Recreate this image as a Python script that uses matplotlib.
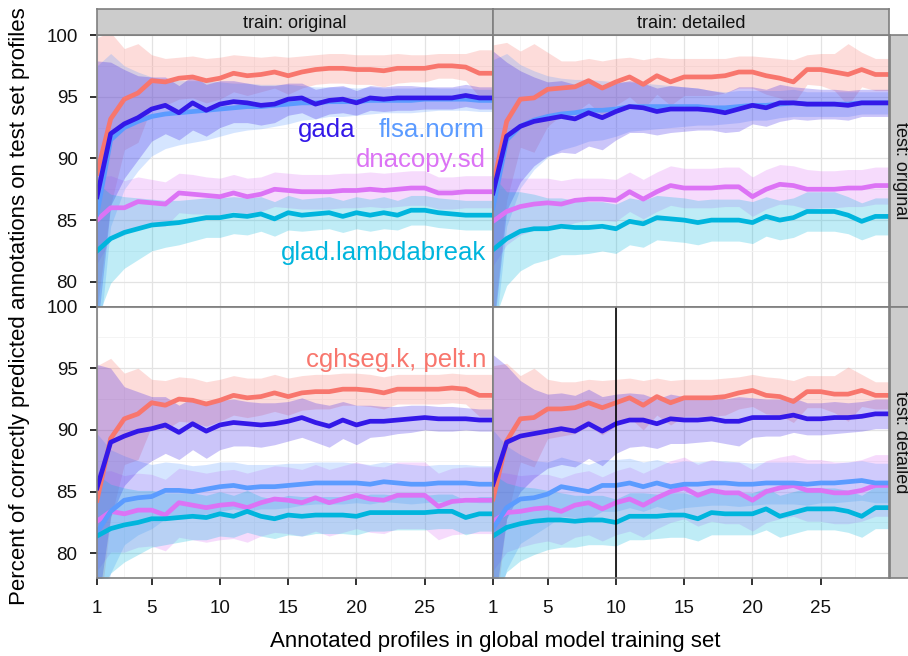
import matplotlib
matplotlib.use('Agg')
import matplotlib.pyplot as plt

plt.rcParams['font.family'] = ['Liberation Sans', 'DejaVu Sans']

# datos: numero de perfiles anotados
x = [1, 2, 3, 4, 5, 6, 7, 8, 9, 10, 11, 12, 13, 14, 15,
     16, 17, 18, 19, 20, 21, 22, 23, 24, 25, 26, 27, 28, 29, 30]

methods = ['cghseg.k, pelt.n', 'dnacopy.sd', 'flsa.norm', 'gada', 'glad.lambdabreak']
colors = ['#F8766D', '#DC73F5', '#5B9BFF', '#3318E8', '#00B5DD']

# train: original / test: original  (oo)
cghseg_oo = [88.8, 93.2, 94.8, 95.3, 96.3, 96.2, 96.5, 96.6, 96.3, 96.5, 96.9, 96.7, 96.8, 97.0, 96.7, 97.0, 97.2, 97.3, 97.3, 97.2, 97.2, 97.1, 97.3, 97.3, 97.3, 97.5, 97.5, 97.4, 96.9, 96.9]
dnacopy_oo = [85.0, 86.0, 86.0, 86.5, 86.4, 86.3, 87.2, 87.1, 87.0, 86.9, 87.2, 86.9, 87.1, 87.5, 87.4, 87.3, 87.3, 87.3, 87.4, 87.4, 87.5, 87.4, 87.5, 87.6, 87.6, 87.2, 87.2, 87.3, 87.3, 87.3]
flsa_oo = [85.5, 91.5, 92.5, 93.0, 93.4, 93.6, 93.7, 93.8, 93.9, 94.0, 94.1, 94.2, 94.2, 94.3, 94.4, 94.5, 94.5, 94.6, 94.6, 94.6, 94.7, 94.7, 94.7, 94.7, 94.8, 94.8, 94.8, 94.8, 94.7, 94.7]
gada_oo = [86.9, 92.0, 92.8, 93.3, 94.0, 94.3, 93.7, 94.5, 93.9, 94.4, 94.6, 94.5, 94.3, 94.4, 94.8, 94.9, 94.4, 94.7, 94.8, 94.5, 94.9, 94.8, 94.9, 94.9, 94.9, 94.9, 94.9, 95.1, 94.9, 94.9]
glad_oo = [82.5, 83.5, 84.0, 84.3, 84.6, 84.7, 84.8, 85.0, 85.2, 85.2, 85.4, 85.3, 85.5, 85.1, 85.6, 85.4, 85.5, 85.6, 85.3, 85.6, 85.4, 85.6, 85.4, 85.8, 85.8, 85.6, 85.5, 85.4, 85.4, 85.4]
cghseg_oo_sd = [11, 7, 4.1, 4, 2.1, 1.9, 1.7, 1.7, 1.8, 1.7, 1.5, 1.6, 1.4, 1.3, 1.5, 1.3, 1.2, 1.2, 1.2, 1.2, 1.2, 1.3, 1.2, 1.1, 1.1, 1.0, 1.0, 1.1, 1.9, 1.9]
dnacopy_oo_sd = [3.5, 2.6, 2.2, 2.0, 1.9, 1.8, 1.6, 1.6, 1.5, 1.5, 1.5, 1.5, 1.4, 1.4, 1.4, 1.4, 1.4, 1.4, 1.4, 1.4, 1.4, 1.4, 1.4, 1.4, 1.4, 1.3, 1.3, 1.3, 1.3, 1.3]
flsa_oo_sd = [12, 7, 5, 4, 3.2, 2.8, 2.6, 2.5, 2.4, 2.2, 2.0, 1.9, 1.8, 1.7, 1.6, 1.4, 1.3, 1.2, 1.2, 1.1, 1.1, 1.0, 1.0, 1.0, 1.0, 0.9, 0.9, 0.9, 0.9, 0.9]
gada_oo_sd = [11, 5.8, 4.4, 3.4, 2.6, 2.3, 2.2, 2.2, 2.1, 1.9, 1.7, 1.6, 1.6, 1.5, 1.3, 1.2, 1.2, 1.1, 1.1, 1.0, 1.0, 1.0, 1.0, 1.0, 0.9, 0.9, 0.9, 0.9, 0.9, 0.9]
glad_oo_sd = [5.5, 3.6, 2.9, 2.5, 2.1, 1.9, 1.8, 1.7, 1.6, 1.6, 1.5, 1.5, 1.4, 1.4, 1.4, 1.3, 1.3, 1.3, 1.3, 1.3, 1.3, 1.3, 1.2, 1.2, 1.2, 1.2, 1.2, 1.2, 1.2, 1.2]

# train: detailed / test: original  (do)
cghseg_do = [87.7, 93.0, 94.8, 94.9, 95.6, 95.7, 95.8, 96.3, 95.7, 96.2, 96.6, 96.0, 96.7, 96.2, 96.6, 96.6, 96.6, 96.7, 97.0, 97.0, 96.7, 96.5, 96.2, 97.2, 97.2, 97.0, 96.8, 97.2, 96.8, 96.8]
dnacopy_do = [84.9, 85.7, 86.1, 86.3, 86.4, 86.3, 86.6, 86.7, 86.7, 86.6, 87.3, 86.7, 87.3, 87.8, 87.6, 87.6, 87.6, 87.7, 87.7, 86.9, 87.5, 87.9, 87.8, 87.5, 87.5, 87.5, 87.6, 87.6, 87.8, 87.8]
flsa_do = [86.0, 91.5, 92.6, 93.1, 93.4, 93.6, 93.7, 93.9, 93.9, 94.0, 94.2, 94.2, 94.2, 94.2, 94.2, 94.2, 94.1, 94.1, 94.2, 94.3, 94.3, 94.4, 94.5, 94.4, 94.4, 94.4, 94.4, 94.5, 94.5, 94.5]
gada_do = [87.2, 91.8, 92.6, 93.0, 93.2, 93.4, 93.2, 93.7, 93.3, 93.8, 94.2, 94.1, 93.8, 94.0, 94.0, 94.0, 93.9, 93.7, 94.0, 94.3, 94.1, 94.5, 94.5, 94.4, 94.4, 94.4, 94.3, 94.5, 94.5, 94.5]
glad_do = [82.6, 83.5, 84.1, 84.3, 84.3, 84.5, 84.4, 84.4, 84.5, 84.3, 84.9, 84.7, 85.2, 85.1, 85.0, 84.8, 85.0, 85.0, 85.0, 84.8, 85.3, 85.0, 85.2, 85.7, 85.7, 85.7, 85.4, 84.9, 85.3, 85.3]
cghseg_do_sd = [11.5, 6.4, 3.9, 4.4, 3.0, 2.2, 2.1, 1.8, 2.2, 1.9, 1.6, 2.0, 1.5, 1.9, 1.5, 1.5, 1.5, 1.4, 1.3, 1.3, 1.5, 1.6, 1.8, 1.2, 1.3, 1.5, 2.5, 1.4, 1.3, 1.3]
dnacopy_do_sd = [3.6, 2.7, 2.3, 2.1, 2.0, 1.9, 1.8, 1.7, 1.7, 1.7, 1.6, 1.6, 1.6, 1.6, 1.6, 1.6, 1.6, 1.6, 1.6, 1.6, 1.6, 1.6, 1.6, 1.6, 1.5, 1.5, 1.5, 1.5, 1.5, 1.5]
flsa_do_sd = [12, 7, 5, 4, 3.3, 2.9, 2.7, 2.5, 2.4, 2.2, 2.0, 1.9, 1.8, 1.7, 1.6, 1.5, 1.4, 1.3, 1.3, 1.2, 1.2, 1.1, 1.1, 1.0, 1.0, 1.0, 1.0, 0.9, 0.9, 0.9]
gada_do_sd = [11.5, 6, 4.5, 3.6, 3.0, 2.9, 2.8, 2.7, 2.6, 2.3, 2.1, 2.0, 1.9, 1.9, 1.8, 1.7, 1.6, 1.6, 1.8, 1.5, 1.5, 1.5, 1.3, 1.3, 1.2, 1.2, 1.2, 1.1, 1.1, 1.1]
glad_do_sd = [6, 3.8, 3.2, 2.8, 2.5, 2.3, 2.2, 2.1, 2.0, 2.0, 1.9, 1.9, 1.8, 1.8, 1.8, 1.8, 1.7, 1.7, 1.7, 1.7, 1.6, 1.6, 1.6, 1.6, 1.6, 1.6, 1.5, 1.5, 1.5, 1.5]

# train: original / test: detailed  (od)
cghseg_od = [84.3, 89.3, 90.9, 91.3, 92.2, 92.0, 92.5, 92.4, 92.1, 92.4, 92.8, 92.6, 92.7, 93.0, 92.7, 93.0, 93.1, 93.1, 93.3, 93.3, 93.2, 93.0, 93.3, 93.3, 93.3, 93.3, 93.4, 93.3, 92.8, 92.8]
dnacopy_od = [82.6, 83.4, 83.2, 83.5, 83.5, 83.1, 84.1, 83.9, 83.7, 83.9, 84.0, 83.7, 84.1, 84.4, 84.3, 84.1, 84.5, 84.1, 84.4, 84.7, 84.4, 84.3, 84.7, 84.7, 84.7, 83.8, 84.2, 84.3, 84.3, 84.3]
flsa_od = [81.7, 83.4, 84.3, 84.5, 84.6, 85.1, 85.1, 85.0, 85.2, 85.4, 85.5, 85.3, 85.4, 85.4, 85.5, 85.6, 85.7, 85.7, 85.7, 85.7, 85.6, 85.8, 85.7, 85.6, 85.6, 85.7, 85.7, 85.7, 85.6, 85.6]
gada_od = [85.3, 89.0, 89.5, 89.9, 90.1, 90.4, 89.8, 90.5, 89.9, 90.4, 90.6, 90.5, 90.4, 90.5, 90.7, 91.0, 90.6, 90.3, 90.8, 90.4, 90.7, 90.7, 90.8, 90.9, 91.0, 90.9, 90.9, 90.9, 90.8, 90.8]
glad_od = [81.4, 82.0, 82.3, 82.5, 82.8, 82.8, 82.9, 83.0, 82.9, 83.2, 83.0, 83.4, 83.0, 82.8, 83.1, 83.0, 83.1, 83.1, 83.1, 83.0, 83.3, 83.3, 83.3, 83.3, 83.3, 83.4, 83.4, 82.9, 83.2, 83.2]
cghseg_od_sd = [10.9, 6.5, 3.7, 3.7, 1.9, 2.0, 1.8, 1.8, 1.8, 1.7, 1.6, 1.6, 1.5, 1.5, 1.5, 1.4, 1.4, 1.4, 1.3, 1.3, 1.3, 1.3, 1.2, 1.2, 1.2, 1.2, 1.2, 1.2, 1.7, 1.7]
dnacopy_od_sd = [4, 3.3, 3.1, 3.0, 2.9, 2.9, 2.8, 2.8, 2.8, 2.8, 2.8, 2.8, 2.7, 2.7, 2.7, 2.7, 2.7, 2.7, 2.7, 2.7, 2.7, 2.7, 2.7, 2.7, 2.7, 2.7, 2.7, 2.7, 2.7, 2.7]
flsa_od_sd = [8, 5, 3.6, 3.0, 2.6, 2.3, 2.2, 2.1, 2.0, 2.0, 1.9, 1.9, 1.8, 1.8, 1.8, 1.7, 1.7, 1.7, 1.7, 1.6, 1.6, 1.6, 1.6, 1.6, 1.5, 1.5, 1.5, 1.5, 1.5, 1.5]
gada_od_sd = [10, 6, 4, 3.2, 2.6, 2.3, 2.2, 2.1, 2.2, 2.0, 1.9, 1.8, 1.8, 1.7, 1.6, 1.6, 1.6, 1.7, 1.5, 1.6, 1.3, 1.2, 1.1, 1.1, 1.0, 1.0, 1.0, 0.9, 0.9, 0.9]
glad_od_sd = [5, 3.6, 3.0, 2.6, 2.3, 2.1, 2.0, 1.9, 1.8, 1.8, 1.7, 1.7, 1.6, 1.6, 1.6, 1.6, 1.5, 1.5, 1.5, 1.5, 1.5, 1.5, 1.4, 1.4, 1.4, 1.4, 1.4, 1.4, 1.4, 1.4]

# train: detailed / test: detailed  (dd)
cghseg_dd = [84.4, 89.1, 90.9, 91.0, 91.7, 91.7, 91.8, 92.2, 91.8, 92.2, 92.6, 92.0, 92.7, 92.2, 92.6, 92.6, 92.6, 92.7, 93.0, 93.2, 92.8, 92.7, 92.3, 93.1, 93.1, 92.9, 92.9, 93.2, 92.8, 92.8]
dnacopy_dd = [82.6, 83.3, 83.4, 83.6, 83.7, 83.4, 83.9, 84.1, 83.6, 84.1, 84.4, 83.9, 84.5, 85.0, 85.3, 84.7, 85.1, 84.9, 84.9, 84.3, 85.0, 85.3, 85.5, 85.1, 85.1, 84.9, 84.9, 85.1, 85.5, 85.5]
flsa_dd = [82.0, 83.7, 84.4, 84.5, 84.8, 85.4, 85.2, 85.0, 85.5, 85.5, 85.7, 85.4, 85.7, 85.4, 85.6, 85.6, 85.7, 85.7, 85.6, 85.6, 85.7, 85.7, 85.7, 85.6, 85.7, 85.7, 85.8, 85.9, 85.7, 85.7]
gada_dd = [85.6, 89.0, 89.5, 89.7, 89.9, 90.1, 89.9, 90.5, 89.9, 90.5, 90.8, 90.8, 90.5, 90.9, 90.8, 90.8, 90.9, 90.7, 90.7, 91.0, 91.0, 91.0, 91.2, 90.9, 90.9, 91.0, 91.0, 91.1, 91.3, 91.3]
glad_dd = [81.4, 82.1, 82.4, 82.6, 82.7, 82.7, 82.6, 82.7, 82.7, 82.5, 83.0, 83.0, 83.0, 83.1, 83.1, 82.8, 83.3, 83.2, 83.2, 83.2, 83.6, 83.0, 83.3, 83.6, 83.6, 83.6, 83.4, 83.0, 83.7, 83.7]
cghseg_dd_sd = [10.8, 6.3, 3.5, 4.0, 2.4, 2.2, 2.1, 1.9, 2.2, 1.9, 1.6, 2.0, 1.5, 1.8, 1.5, 1.5, 1.5, 1.5, 1.3, 1.3, 1.5, 1.5, 1.7, 1.3, 1.3, 1.5, 2.2, 1.3, 1.1, 1.1]
dnacopy_dd_sd = [4, 3.2, 2.9, 2.8, 2.7, 2.7, 2.6, 2.6, 2.6, 2.6, 2.6, 2.6, 2.5, 2.5, 2.5, 2.5, 2.5, 2.5, 2.5, 2.5, 2.5, 2.5, 2.5, 2.5, 2.5, 2.5, 2.5, 2.5, 2.5, 2.5]
flsa_dd_sd = [8, 5, 3.6, 3.0, 2.6, 2.4, 2.3, 2.2, 2.1, 2.1, 2.0, 2.0, 1.9, 1.9, 1.9, 1.8, 1.8, 1.8, 1.8, 1.7, 1.7, 1.7, 1.7, 1.7, 1.6, 1.6, 1.6, 1.6, 1.6, 1.6]
gada_dd_sd = [10.5, 6.2, 4.5, 3.6, 3.0, 2.9, 2.9, 2.8, 2.8, 2.4, 2.2, 2.1, 2.0, 2.0, 1.9, 1.8, 1.8, 1.8, 2.0, 1.6, 1.5, 1.5, 1.4, 1.3, 1.3, 1.3, 1.2, 1.2, 1.2, 1.2]
glad_dd_sd = [5, 3.6, 3.0, 2.7, 2.4, 2.2, 2.1, 2.0, 2.0, 1.9, 1.9, 1.9, 1.8, 1.8, 1.8, 1.8, 1.8, 1.7, 1.7, 1.7, 1.7, 1.7, 1.7, 1.7, 1.7, 1.7, 1.7, 1.7, 1.7, 1.7]

train_labels = ['train: original', 'train: detailed']
test_labels = ['test: original', 'test: detailed']
x_ticks = [1, 5, 10, 15, 20, 25]
y_ticks = [80, 85, 90, 95, 100]

# paneles [fila][columna]
panels = [
    [([cghseg_oo, dnacopy_oo, flsa_oo, gada_oo, glad_oo],
      [cghseg_oo_sd, dnacopy_oo_sd, flsa_oo_sd, gada_oo_sd, glad_oo_sd]),
     ([cghseg_do, dnacopy_do, flsa_do, gada_do, glad_do],
      [cghseg_do_sd, dnacopy_do_sd, flsa_do_sd, gada_do_sd, glad_do_sd])],
    [([cghseg_od, dnacopy_od, flsa_od, gada_od, glad_od],
      [cghseg_od_sd, dnacopy_od_sd, flsa_od_sd, gada_od_sd, glad_od_sd]),
     ([cghseg_dd, dnacopy_dd, flsa_dd, gada_dd, glad_dd],
      [cghseg_dd_sd, dnacopy_dd_sd, flsa_dd_sd, gada_dd_sd, glad_dd_sd])],
]

W, H = 908, 656
fig = plt.figure(figsize=(W / 100, H / 100), dpi=100)

# coordenadas en pixeles de los paneles
px_left, pw = 97, 396
py_top, ph = 35, 271.5
frame = '#7F7F7F'

def pix(x0, y0, w, h):
    return [x0 / W, 1 - (y0 + h) / H, w / W, h / H]

for r in range(2):
    for c in range(2):
        ax = fig.add_axes(pix(px_left + c * pw, py_top + r * ph, pw, ph))
        means, sds = panels[r][c]
        ax.set_xlim(1, 30)
        ax.set_ylim(78, 100)
        ax.set_xticks(x_ticks)
        ax.set_yticks(y_ticks)
        ax.set_xticks([3, 7.5, 12.5, 17.5, 22.5, 27.5], minor=True)
        ax.set_yticks([82.5, 87.5, 92.5, 97.5], minor=True)
        ax.grid(True, which='major', color='#E3E3E3', lw=0.9)
        ax.grid(True, which='minor', color='#F2F2F2', lw=0.6)
        ax.set_axisbelow(True)
        for m, s, col in zip(means, sds, colors):
            lo = [a - b for a, b in zip(m, s)]
            hi = [a + b for a, b in zip(m, s)]
            ax.fill_between(x, lo, hi, color=col, alpha=0.25, lw=0)
        for m, col in zip(means, colors):
            ax.plot(x, m, color=col, lw=3.4, solid_joinstyle='round')
        if r == 1 and c == 1:
            ax.axvline(10, color='black', lw=1.2)
        for sp in ax.spines.values():
            sp.set_color(frame)
            sp.set_linewidth(1.2)
        ax.tick_params(which='minor', length=0)
        ax.tick_params(which='major', direction='out', length=5, width=1.3,
                       color='#222222', labelsize=13.5, labelcolor='#111111')
        ax.tick_params(axis='x', pad=10.5)
        ax.tick_params(axis='y', pad=9)
        if r == 0:
            ax.tick_params(axis='x', which='major', length=0, labelbottom=False)
        if c == 1:
            ax.tick_params(axis='y', which='major', length=0, labelleft=False)

        # etiquetas de los metodos
        if r == 0 and c == 0:
            ax.text(19.9, 91.7, 'gada', color=colors[3], fontsize=18.5, ha='right', va='baseline')
            ax.text(29.4, 91.7, 'flsa.norm', color=colors[2], fontsize=18.5, ha='right', va='baseline')
            ax.text(29.5, 89.3, 'dnacopy.sd', color=colors[1], fontsize=18.5, ha='right', va='baseline')
            ax.text(29.5, 81.8, 'glad.lambdabreak', color=colors[4], fontsize=18.5, ha='right', va='baseline')
        if r == 1 and c == 0:
            ax.text(29.55, 95.1, methods[0], color=colors[0], fontsize=18.5, ha='right', va='baseline')

# tiras de las facetas
for c in range(2):
    s = fig.add_axes(pix(px_left + c * pw, 9, pw, 26))
    s.set_facecolor('#CCCCCC')
    s.set_xticks([])
    s.set_yticks([])
    for sp in s.spines.values():
        sp.set_color(frame)
        sp.set_linewidth(1.2)
    s.text(0.5, 0.45, train_labels[c], transform=s.transAxes, ha='center',
           va='center', fontsize=13, color='#111111')
for r in range(2):
    s = fig.add_axes(pix(px_left + 2 * pw + 1, py_top + r * ph, 24, ph))
    s.set_facecolor('#CCCCCC')
    s.set_xticks([])
    s.set_yticks([])
    for sp in s.spines.values():
        sp.set_color(frame)
        sp.set_linewidth(1.2)
    s.text(0.45, 0.5, test_labels[r], transform=s.transAxes, ha='center',
           va='center', rotation=-90, fontsize=13, color='#111111')

fig.text(495 / W, 1 - 641 / H, 'Annotated profiles in global model training set',
         ha='center', va='center', fontsize=16)
fig.text(20 / W, 1 - 306 / H, 'Percent of correctly predicted annotations on test set profiles',
         ha='center', va='center', rotation=90, fontsize=16)

fig.savefig('out.png', dpi=100)
